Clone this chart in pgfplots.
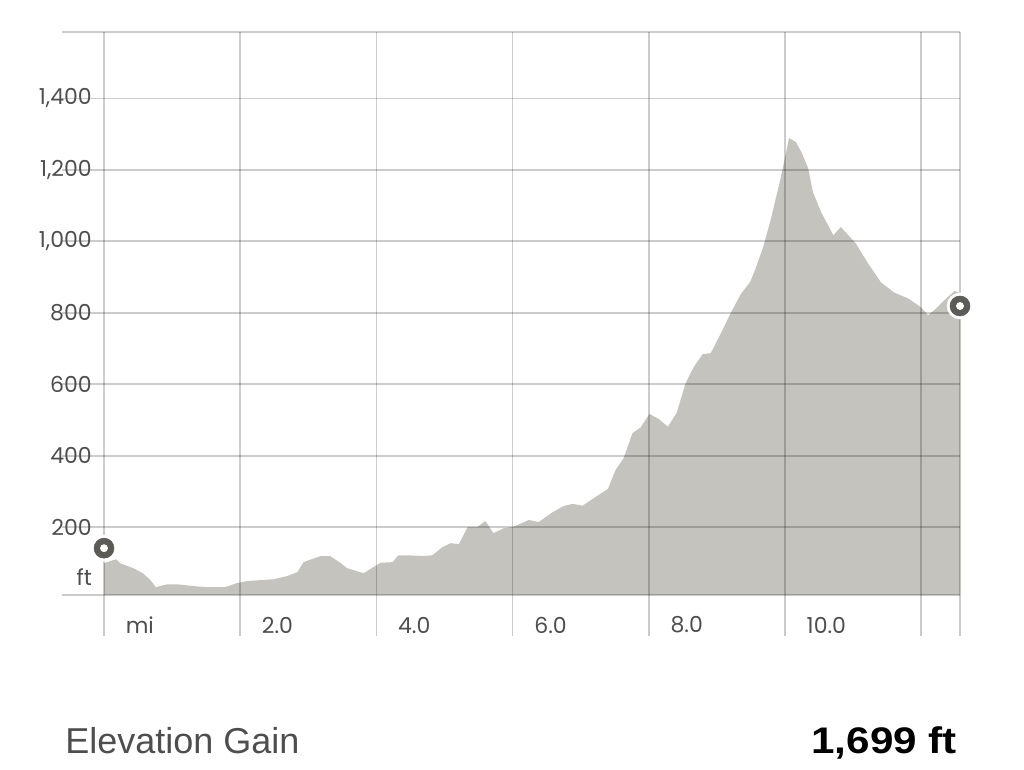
\documentclass[border=0pt]{standalone}
\usepackage{fontspec}
\usepackage{pgfplots}
\pgfplotsset{compat=1.18}
\setmainfont{Liberation Sans}
\newfontfamily\tickfont{Poppins}
\definecolor{areagray}{RGB}{196,195,190}
\definecolor{labelgray}{RGB}{78,78,78}
\definecolor{markgray}{RGB}{93,91,87}
\pgfplotsset{
  frame/.style={
    at={(46.5pt,100.5pt)}, anchor=south west,
    scale only axis, width=673.5pt, height=453pt,
    xmin=-0.617, xmax=12.57, ymin=-104.8, ymax=1586,
    axis line style={draw=none}, clip=false,
  }
}
\begin{document}
\begin{tikzpicture}
\path (0,0) rectangle (768pt,577.5pt);
\begin{axis}[
  frame,
  axis on top,
  major tick length=0pt,
  tick pos=left,
  xtick={0,2,4,6,8,10,12,12.57},
  xticklabels={mi,2.0,4.0,6.0,8.0,10.0,,},
  ytick={10,200,400,600,800,1000,1200,1400,1586},
  yticklabels={,200,400,600,800,{1,000},{1,200},{1,400},},
  grid=major,
  grid style={draw=black, opacity=0.2, line width=1.3pt},
  ticklabel style={font=\tickfont\fontsize{16.5}{18}\selectfont, text=labelgray, inner sep=0pt},
  xticklabel style={anchor=west, xshift=16.1pt, yshift=8.25pt},
  yticklabel style={anchor=east, xshift=22.5pt},
]
\addplot[fill=areagray, draw=none] coordinates {
(0,10) (0,99) (0.176,110) (0.235,99) (0.43,85) (0.57,71) (0.68,52) (0.76,32)
(0.93,40) (1.07,40) (1.31,35) (1.51,32) (1.78,32) (1.95,43) (2.10,49) (2.49,54)
(2.69,63) (2.84,74) (2.93,102) (3.18,119) (3.32,119) (3.47,100) (3.57,85) (3.81,71)
(4.06,100) (4.24,102) (4.32,121) (4.47,121) (4.68,119) (4.82,121) (4.97,144) (5.09,155)
(5.21,152) (5.34,200) (5.48,200) (5.60,217) (5.72,183) (5.87,197) (6.0,200) (6.24,220)
(6.38,214) (6.59,242) (6.75,259) (6.88,265) (7.03,260) (7.19,281) (7.40,307) (7.51,359)
(7.63,393) (7.76,463) (7.88,479) (8.01,517) (8.15,502) (8.28,481) (8.41,520) (8.54,603)
(8.66,648) (8.79,684) (8.91,687) (9.06,743) (9.21,802) (9.35,852) (9.49,887) (9.57,925)
(9.68,984) (9.79,1060) (9.94,1180) (10.06,1289) (10.16,1278) (10.24,1250) (10.34,1205) (10.41,1138)
(10.53,1082) (10.71,1017) (10.82,1040) (11.04,994) (11.22,938) (11.41,885) (11.60,857) (11.81,840)
(12.0,815) (12.10,793) (12.22,812) (12.34,835) (12.49,861) (12.57,855) (12.57,10)
};
\node[anchor=east, inner sep=0pt, font=\tickfont\fontsize{16.5}{18}\selectfont, text=labelgray] at (axis cs:-0.176,60) {ft};
\end{axis}
\begin{axis}[frame, hide axis]
\addplot[only marks, mark=*, color=white, mark size=9.75pt] coordinates {(0,141) (12.57,819)};
\addplot[only marks, mark=*, color=markgray, mark size=7.5pt] coordinates {(0,141) (12.57,819)};
\addplot[only marks, mark=*, color=white, mark size=2.7pt] coordinates {(0,141) (12.57,819)};
\end{axis}
\node[anchor=base west, inner sep=0pt, font=\fontsize{27}{30}\selectfont, text=labelgray] at (48.75pt,12pt) {Elevation Gain};
\node[anchor=base east, inner sep=0pt, font=\bfseries\fontsize{27.75}{30}\selectfont, text=black] at (717.75pt,12pt) {\scalebox{1.14}[1]{1,699 ft}};
\end{tikzpicture}
\end{document}
